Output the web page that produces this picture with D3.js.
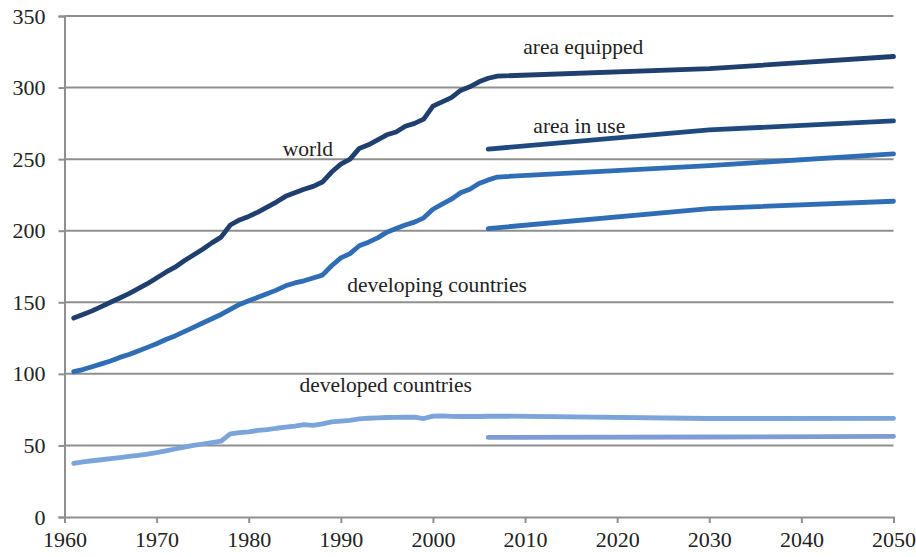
<!DOCTYPE html>
<html>
<head>
<meta charset="utf-8">
<script src="https://cdn.jsdelivr.net/npm/d3@7"></script>
<style>
  html, body { margin: 0; padding: 0; background: #fff; }
  svg { display: block; }
</style>
</head>
<body>
<svg id="chart" width="916" height="557"></svg>
<script>
// ---------- DATA ----------
const histYears = [1961,1962,1963,1964,1965,1966,1967,1968,1969,1970,
  1971,1972,1973,1974,1975,1976,1977,1978,1979,1980,
  1981,1982,1983,1984,1985,1986,1987,1988,1989,1990,
  1991,1992,1993,1994,1995,1996,1997,1998,1999,2000,
  2001,2002,2003,2004,2005,2006,2007];

const worldHist = [139,141.5,144,147,150,153,156,159.5,163,167,
  171,174.5,179,183,187,191.5,195.5,204,207.5,210,
  213,216.5,220,224,226.5,229,231,234,241,246.5,
  250,257.5,260,263.5,267,269,273,275,278,287,
  290,293,298,300.5,304,306.5,308];

const developingHist = [101.5,103,105,107,109,111.5,113.5,116,118.5,121,
  124,126.5,129.5,132.5,135.5,138.5,141.5,145,148.5,151,
  153.5,156,158.5,161.5,163.5,165,167,169,175.5,181,
  184,189.5,192,195,199,201.5,204,206,209,215,
  218.5,222,226.5,229,233,235.5,237.5];

const developedHist = [37.5,38.5,39.3,40,40.8,41.5,42.3,43,44,45,
  46.2,47.5,48.8,50,51,52,53,58,59,59.5,
  60.5,61,62,62.8,63.5,64.5,64,65,66.5,67,
  67.5,68.5,69,69.3,69.5,69.6,69.8,69.7,68.8,70.5,
  70.6,70.3,70.2,70.3,70.2,70.4,70.5];

// projections (area equipped)
const projYears = [2007, 2030, 2050];
const worldProj = [308, 313.2, 321.7];
const developingProj = [237.5, 245.5, 253.7];
const developedProj = [70.5, 68.8, 68.9];

// projections (area in use)
const inUseYears = [2006, 2030, 2050];
const worldInUse = [257, 270.4, 276.7];
const developingInUse = [201.5, 215.5, 220.6];
const developedInUse = [55.6, 55.9, 56.3];

const xTicks = [1960,1970,1980,1990,2000,2010,2020,2030,2040,2050];
const yTicks = [0,50,100,150,200,250,300,350];

const labels = [
  { text: "area equipped", year: 2009.8, value: 323.5 },
  { text: "area in use", year: 2010.9, value: 268.5 },
  { text: "world", year: 1983.7, value: 252 },
  { text: "developing countries", year: 1990.7, value: 157.5 },
  { text: "developed countries", year: 1985.5, value: 87 }
];

// ---------- CHART ----------
const svg = d3.select("#chart");
const x = d3.scaleLinear().domain([1960, 2050]).range([64.5, 893.5]);
const y = d3.scaleLinear().domain([0, 350]).range([517, 16]);

const gridColor = "#8f8f8f";
const fontFamily = "'Liberation Serif', 'Times New Roman', serif";

// gridlines
svg.append("g")
  .selectAll("line")
  .data(yTicks.filter(d => d > 0))
  .join("line")
  .attr("x1", x(1960)).attr("x2", x(2050))
  .attr("y1", d => y(d)).attr("y2", d => y(d))
  .attr("stroke", gridColor).attr("stroke-width", 2);

// y axis
const yAxis = svg.append("g")
  .attr("transform", `translate(${x(1960)},0)`)
  .call(d3.axisLeft(y).tickValues(yTicks).tickSize(6).tickPadding(13).tickFormat(d3.format("d")));
yAxis.select(".domain").attr("stroke", gridColor).attr("stroke-width", 2);
yAxis.selectAll(".tick line").attr("stroke", gridColor).attr("stroke-width", 2);
yAxis.selectAll(".tick text")
  .attr("font-family", fontFamily).attr("font-size", 22).attr("fill", "#222");

// x axis
const xAxis = svg.append("g")
  .attr("transform", `translate(0,${y(0)})`)
  .call(d3.axisBottom(x).tickValues(xTicks).tickSize(6).tickPadding(8).tickFormat(d3.format("d")));
xAxis.select(".domain").attr("stroke", gridColor).attr("stroke-width", 2);
xAxis.selectAll(".tick line").attr("stroke", gridColor).attr("stroke-width", 2);
xAxis.selectAll(".tick text")
  .attr("font-family", fontFamily).attr("font-size", 22).attr("fill", "#222");

// lines
const line = d3.line().x(d => x(d[0])).y(d => y(d[1]));
const zip = (xs, vs) => xs.map((v, i) => [v, vs[i]]);
const join = (a, b) => a.concat(b.slice(1));

const series = [
  { pts: join(zip(histYears, worldHist), zip(projYears, worldProj)), color: "#1f3f6e" },
  { pts: zip(inUseYears, worldInUse), color: "#1f4a80" },
  { pts: join(zip(histYears, developingHist), zip(projYears, developingProj)), color: "#2f6db5" },
  { pts: zip(inUseYears, developingInUse), color: "#2f6db5" },
  { pts: join(zip(histYears, developedHist), zip(projYears, developedProj)), color: "#7aa4da" },
  { pts: zip(inUseYears, developedInUse), color: "#7c9cd4" }
];

svg.append("g")
  .selectAll("path")
  .data(series)
  .join("path")
  .attr("d", d => line(d.pts))
  .attr("fill", "none")
  .attr("stroke", d => d.color)
  .attr("stroke-width", 4.8)
  .attr("stroke-linecap", "round")
  .attr("stroke-linejoin", "round");

// labels
svg.append("g")
  .selectAll("text")
  .data(labels)
  .join("text")
  .attr("x", d => x(d.year))
  .attr("y", d => y(d.value))
  .attr("font-family", fontFamily)
  .attr("font-size", 21.5)
  .attr("fill", "#222")
  .text(d => d.text);
</script>
</body>
</html>
